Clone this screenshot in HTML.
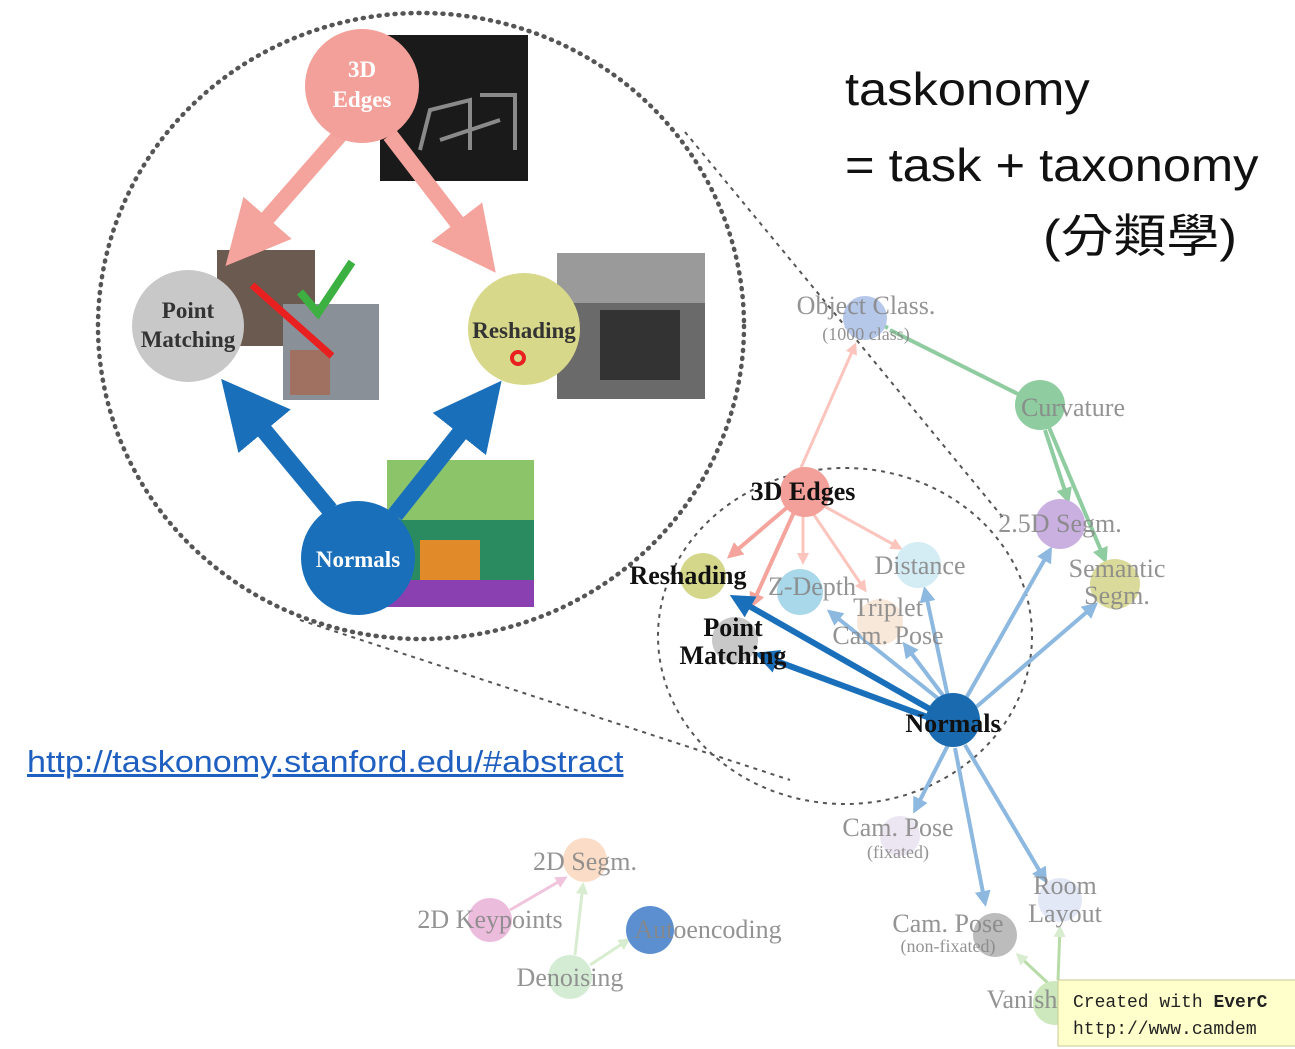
<!DOCTYPE html>
<html><head><meta charset="utf-8"><style>
body{margin:0;background:#fff;width:1295px;height:1049px;overflow:hidden;position:relative;font-family:"Liberation Serif",serif}
svg{position:absolute;left:0;top:0}
.t{position:absolute;font-family:"Liberation Sans","Noto Sans CJK TC",sans-serif;color:#111;white-space:nowrap;transform-origin:0 0}
</style></head><body>
<svg width="1295" height="1049" viewBox="0 0 1295 1049">
<defs>
<marker id="ap" markerWidth="4" markerHeight="4" refX="3" refY="2" orient="auto" markerUnits="strokeWidth"><path d="M0,0L4,2L0,4z" fill="#f4a49c"/></marker>
<marker id="ab" markerWidth="4" markerHeight="4" refX="3" refY="2" orient="auto" markerUnits="strokeWidth"><path d="M0,0L4,2L0,4z" fill="#1a6fbb"/></marker>
<marker id="sp" markerWidth="4" markerHeight="4" refX="3" refY="2" orient="auto" markerUnits="strokeWidth"><path d="M0,0L4,2L0,4z" fill="#f4a49c"/></marker>
<marker id="sl" markerWidth="4" markerHeight="4" refX="3" refY="2" orient="auto" markerUnits="strokeWidth"><path d="M0,0L4,2L0,4z" fill="#fbc4bd"/></marker>
<marker id="sb" markerWidth="4" markerHeight="4" refX="3" refY="2" orient="auto" markerUnits="strokeWidth"><path d="M0,0L4,2L0,4z" fill="#8db8e0"/></marker>
<marker id="sd" markerWidth="4" markerHeight="4" refX="3" refY="2" orient="auto" markerUnits="strokeWidth"><path d="M0,0L4,2L0,4z" fill="#1a6fbb"/></marker>
<marker id="sg" markerWidth="4" markerHeight="4" refX="3" refY="2" orient="auto" markerUnits="strokeWidth"><path d="M0,0L4,2L0,4z" fill="#8fcca0"/></marker>
<marker id="sq" markerWidth="4" markerHeight="4" refX="3" refY="2" orient="auto" markerUnits="strokeWidth"><path d="M0,0L4,2L0,4z" fill="#d8ecd0"/></marker>
<marker id="sk" markerWidth="4" markerHeight="4" refX="3" refY="2" orient="auto" markerUnits="strokeWidth"><path d="M0,0L4,2L0,4z" fill="#f0c4dc"/></marker>
</defs>
<ellipse cx="421" cy="326" rx="323" ry="313" fill="none" stroke="#555" stroke-width="4.5" stroke-dasharray="1 7" stroke-linecap="round"/>
<ellipse cx="845" cy="636" rx="187" ry="168" fill="none" stroke="#555" stroke-width="2" stroke-dasharray="4 5"/>
<line x1="685" y1="132" x2="1005" y2="520" stroke="#555" stroke-width="2" stroke-dasharray="4 5"/>
<line x1="300" y1="620" x2="790" y2="780" stroke="#555" stroke-width="2" stroke-dasharray="4 5"/>
<rect x="380" y="35" width="148" height="146" fill="#1a1a1a"/>
<path d="M420,150 L430,110 L470,100 L470,150 M480,95 L515,95 L515,150 M440,140 L500,120" stroke="#bbb" stroke-width="4" fill="none" opacity=".7"/>
<rect x="557" y="253" width="148" height="146" fill="#6a6a6a"/>
<rect x="557" y="253" width="148" height="50" fill="#9a9a9a"/>
<rect x="600" y="310" width="80" height="70" fill="#333"/>
<rect x="387" y="460" width="147" height="147" fill="#8cc46a"/>
<rect x="387" y="520" width="147" height="87" fill="#2a8a60"/>
<rect x="420" y="540" width="60" height="50" fill="#e08a2a"/>
<rect x="387" y="580" width="147" height="27" fill="#8a40b0"/>
<rect x="217" y="250" width="98" height="96" fill="#6a5a50"/>
<rect x="283" y="304" width="96" height="96" fill="#8a9098"/>
<rect x="290" y="350" width="40" height="45" fill="#a07060"/>
<line x1="252" y1="285" x2="332" y2="356" stroke="#e82020" stroke-width="7"/>
<path d="M300,292 L318,313 L352,262" stroke="#3cb040" stroke-width="8" fill="none"/>
<line x1="340" y1="135" x2="236" y2="254" stroke="#f4a49c" stroke-width="16" marker-end="url(#ap)"/>
<line x1="390" y1="135" x2="486" y2="260" stroke="#f4a49c" stroke-width="16" marker-end="url(#ap)"/>
<line x1="330" y1="510" x2="232" y2="392" stroke="#1a6fbb" stroke-width="17" marker-end="url(#ab)"/>
<line x1="395" y1="515" x2="491" y2="394" stroke="#1a6fbb" stroke-width="17" marker-end="url(#ab)"/>
<circle cx="362" cy="86" r="57" fill="#f4a09a"/>
<circle cx="188" cy="326" r="56" fill="#c8c8c8"/>
<circle cx="524" cy="329" r="56" fill="#d8d88a"/>
<circle cx="358" cy="558" r="57" fill="#1a6fbb"/>
<circle cx="518" cy="358" r="6" fill="none" stroke="#e82020" stroke-width="4"/>
<g font-family="Liberation Serif,serif" font-weight="bold" font-size="23" text-anchor="middle">
<text x="362" y="77" fill="#fff">3D</text><text x="362" y="107" fill="#fff">Edges</text>
<text x="188" y="318" fill="#333">Point</text><text x="188" y="347" fill="#333">Matching</text>
<text x="524" y="338" fill="#333">Reshading</text>
<text x="358" y="567" fill="#fff">Normals</text>
</g>
<line x1="800" y1="470" x2="855" y2="345" stroke="#fbc4bd" stroke-width="3" marker-end="url(#sl)"/>
<line x1="890" y1="330" x2="1030" y2="400" stroke="#8fcca0" stroke-width="4"/>
<line x1="888" y1="328" x2="868" y2="318" stroke="#8fcca0" stroke-width="4" marker-end="url(#sg)"/>
<line x1="1045" y1="430" x2="1068" y2="500" stroke="#8fcca0" stroke-width="4" marker-end="url(#sg)"/>
<line x1="1048" y1="425" x2="1105" y2="560" stroke="#8fcca0" stroke-width="4" marker-end="url(#sg)"/>
<line x1="790" y1="505" x2="730" y2="556" stroke="#f4a49c" stroke-width="4" marker-end="url(#sp)"/>
<line x1="795" y1="510" x2="752" y2="605" stroke="#f4a49c" stroke-width="4" marker-end="url(#sp)"/>
<line x1="803" y1="515" x2="803" y2="562" stroke="#fbc4bd" stroke-width="3" marker-end="url(#sl)"/>
<line x1="812" y1="512" x2="865" y2="590" stroke="#fbc4bd" stroke-width="3" marker-end="url(#sl)"/>
<line x1="822" y1="505" x2="900" y2="548" stroke="#fbc4bd" stroke-width="3" marker-end="url(#sl)"/>
<line x1="935" y1="712" x2="735" y2="598" stroke="#1a6fbb" stroke-width="6" marker-end="url(#sd)"/>
<line x1="930" y1="718" x2="760" y2="655" stroke="#1a6fbb" stroke-width="6" marker-end="url(#sd)"/>
<g stroke="#8db8e0" stroke-width="4" marker-end="url(#sb)">
<line x1="940" y1="700" x2="830" y2="612"/>
<line x1="945" y1="698" x2="905" y2="645"/>
<line x1="948" y1="697" x2="925" y2="590"/>
<line x1="965" y1="700" x2="1050" y2="550"/>
<line x1="975" y1="708" x2="1095" y2="605"/>
<line x1="948" y1="745" x2="915" y2="810"/>
<line x1="955" y1="748" x2="985" y2="903"/>
<line x1="965" y1="745" x2="1045" y2="880"/>
</g>
<line x1="1050" y1="985" x2="1018" y2="955" stroke="#b8dca8" stroke-width="3" marker-end="url(#sq)"/>
<line x1="1058" y1="980" x2="1060" y2="928" stroke="#b8dca8" stroke-width="3" marker-end="url(#sq)"/>
<line x1="510" y1="910" x2="565" y2="878" stroke="#f0c4dc" stroke-width="3" marker-end="url(#sk)"/>
<line x1="575" y1="955" x2="583" y2="885" stroke="#d8ecd0" stroke-width="3" marker-end="url(#sq)"/>
<line x1="590" y1="965" x2="628" y2="940" stroke="#d8ecd0" stroke-width="3" marker-end="url(#sq)"/>
<circle cx="865" cy="318" r="22" fill="#b6c8ea"/>
<circle cx="1040" cy="405" r="25" fill="#8fcca0"/>
<circle cx="805" cy="492" r="25" fill="#f4a09a"/>
<circle cx="703" cy="576" r="23" fill="#d4d68a"/>
<circle cx="800" cy="592" r="23" fill="#a8d8ea"/>
<circle cx="918" cy="565" r="23" fill="#d4ecf4"/>
<circle cx="880" cy="622" r="23" fill="#f8e8da"/>
<circle cx="735" cy="640" r="23" fill="#c8c8c8"/>
<circle cx="953" cy="720" r="27" fill="#1a6ab0"/>
<circle cx="1060" cy="524" r="25" fill="#c9b0e0"/>
<circle cx="1115" cy="584" r="25" fill="#dada9a"/>
<circle cx="900" cy="836" r="20" fill="#ece6f2"/>
<circle cx="1060" cy="900" r="22" fill="#e2e8f6"/>
<circle cx="995" cy="935" r="22" fill="#bcbcbc"/>
<circle cx="1055" cy="1003" r="22" fill="#cce8bc"/>
<circle cx="585" cy="860" r="22" fill="#fbdcc6"/>
<circle cx="490" cy="920" r="22" fill="#ecbcdc"/>
<circle cx="650" cy="930" r="24" fill="#5b8fd0"/>
<circle cx="570" cy="977" r="22" fill="#d4ecd4"/>
<g font-family="Liberation Serif,serif" font-size="26" fill="#888" text-anchor="middle" opacity=".9">
<text x="866" y="314">Object Class.</text><text x="866" y="340" font-size="18">(1000 class)</text>
<text x="1073" y="416">Curvature</text>
<text x="1060" y="532">2.5D Segm.</text>
<text x="1117" y="577">Semantic</text><text x="1117" y="604">Segm.</text>
<text x="920" y="574">Distance</text>
<text x="812" y="595">Z-Depth</text>
<text x="888" y="616">Triplet</text><text x="888" y="644">Cam. Pose</text>
<text x="898" y="836">Cam. Pose</text><text x="898" y="858" font-size="18">(fixated)</text>
<text x="1065" y="894">Room</text><text x="1065" y="922">Layout</text>
<text x="948" y="932">Cam. Pose</text><text x="948" y="952" font-size="18">(non-fixated)</text>
<text x="1022" y="1008">Vanish</text>
<text x="585" y="870">2D Segm.</text>
<text x="490" y="928">2D Keypoints</text>
<text x="708" y="938">Autoencoding</text>
<text x="570" y="986">Denoising</text>
</g>
<g font-family="Liberation Serif,serif" font-size="26" font-weight="bold" fill="#111" text-anchor="middle">
<text x="803" y="500">3D Edges</text>
<text x="688" y="584">Reshading</text>
<text x="733" y="636">Point</text><text x="733" y="664">Matching</text>
<text x="953" y="732">Normals</text>
</g>
<rect x="1058" y="980" width="240" height="66" fill="#ffffcc" stroke="#c8c890"/>
<text x="1073" y="1007" font-family="Liberation Mono,monospace" font-size="18" fill="#222">Created with <tspan font-weight="bold">EverC</tspan></text>
<text x="1073" y="1034" font-family="Liberation Mono,monospace" font-size="18" fill="#222">http://www.camdem</text>
</svg>
<div class="t" style="left:845px;top:62px;font-size:46px;transform:scaleX(1.1)">taskonomy</div>
<div class="t" style="left:845px;top:138px;font-size:46px;transform:scaleX(1.1)">= task + taxonomy</div>
<div class="t" style="left:1043px;top:200px;font-size:46px;transform:scaleX(1.15)">(分類學)</div>
<div class="t" style="left:27px;top:744px;font-size:31px;color:#1f5fbf;text-decoration:underline;transform:scaleX(1.1)">http://taskonomy.stanford.edu/#abstract</div>
</body></html>
